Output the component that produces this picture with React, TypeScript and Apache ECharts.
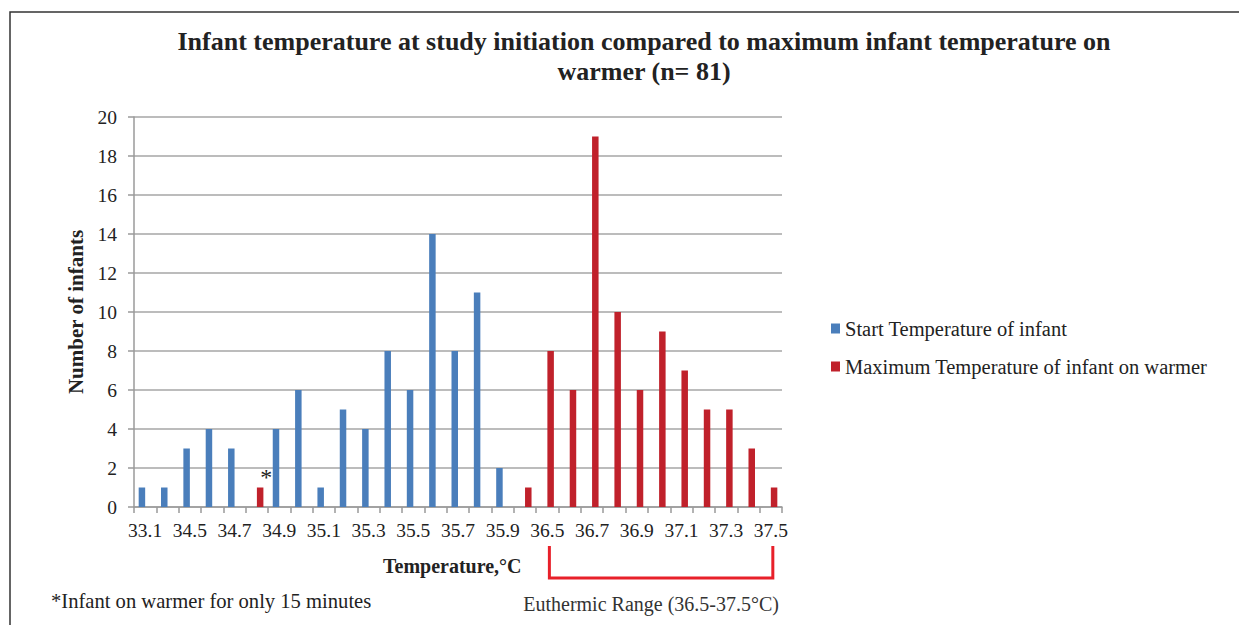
import React, { useEffect, useRef } from "react";
import * as echarts from "echarts";

const categories = [
  "33.1", "34.4", "34.5", "34.6", "34.7", "34.8", "34.9", "35.0", "35.1", "35.2",
  "35.3", "35.4", "35.5", "35.6", "35.7", "35.8", "35.9", "36.4", "36.5", "36.6",
  "36.7", "36.8", "36.9", "37.0", "37.1", "37.2", "37.3", "37.4", "37.5",
];
const startTemp = [1, 1, 3, 4, 3, 0, 4, 6, 1, 5, 4, 8, 6, 14, 8, 11, 2, 0, 0, 0, 0, 0, 0, 0, 0, 0, 0, 0, 0];
const maxTemp = [0, 0, 0, 0, 0, 1, 0, 0, 0, 0, 0, 0, 0, 0, 0, 0, 0, 1, 8, 6, 19, 10, 6, 9, 7, 5, 5, 3, 1];
const starredCategory = "34.8";
const rangeStart = "36.5";
const rangeEnd = "37.5";

const SERIF = "'Liberation Serif', 'Times New Roman', serif";
const BLUE = "#4A7EBB";
const RED = "#C0212B";

export default function App() {
  const ref = useRef<HTMLDivElement>(null);
  useEffect(() => {
    document.body.style.margin = "0";
    const chart = echarts.init(ref.current!, null, { renderer: "svg" });
    const redData = maxTemp.map((v, i) =>
      categories[i] === starredCategory
        ? {
            value: v,
            label: {
              show: true,
              formatter: "*",
              position: "top",
              offset: [6, 6],
              fontFamily: SERIF,
              fontSize: 24,
              color: "#222",
            },
          }
        : v
    );
    chart.setOption({
      animation: false,
      backgroundColor: "#fff",
      grid: { left: 134, right: 457, top: 117, bottom: 118 },
      legend: {
        orient: "vertical",
        left: 826,
        top: 313,
        itemWidth: 9,
        itemHeight: 10,
        itemGap: 17,
        icon: "rect",
        textStyle: { fontFamily: SERIF, fontSize: 20.5, color: "#222" },
        data: ["Start Temperature of infant", "Maximum Temperature of infant on warmer"],
      },
      xAxis: {
        type: "category",
        data: categories,
        boundaryGap: true,
        axisLine: { lineStyle: { color: "#9a9a9a", width: 1.5 } },
        axisTick: { show: true, interval: 0, length: 6, lineStyle: { color: "#9a9a9a", width: 1.5 } },
        axisLabel: {
          interval: 1,
          margin: 13,
          fontFamily: SERIF,
          fontSize: 19.5,
          color: "#222",
        },
      },
      yAxis: {
        type: "value",
        min: 0,
        max: 20,
        interval: 2,
        axisLine: { show: true, lineStyle: { color: "#9a9a9a", width: 1.5 } },
        axisTick: { show: true, length: 6, lineStyle: { color: "#9a9a9a", width: 1.5 } },
        splitLine: { lineStyle: { color: "#a6a6a6", width: 1.5 } },
        axisLabel: { margin: 17, fontFamily: SERIF, fontSize: 19.5, color: "#222" },
        name: "Number of infants",
        nameLocation: "middle",
        nameGap: 42,
        nameRotate: 90,
        nameTextStyle: { fontFamily: SERIF, fontSize: 21, fontWeight: "bold", color: "#222" },
      },
      series: [
        {
          name: "Start Temperature of infant",
          type: "bar",
          data: startTemp,
          barWidth: 6.5,
          barGap: "0%",
          itemStyle: { color: BLUE },
        },
        {
          name: "Maximum Temperature of infant on warmer",
          type: "bar",
          data: redData,
          barWidth: 6.5,
          barGap: "0%",
          itemStyle: { color: RED },
        },
      ],
    });

    const xs = chart.convertToPixel({ xAxisIndex: 0 }, rangeStart) as number;
    const xe = chart.convertToPixel({ xAxisIndex: 0 }, rangeEnd) as number;
    const bx1 = xs + 2;
    const bx2 = xe + 2;

    chart.setOption({
      graphic: [
        {
          type: "polyline",
          shape: { points: [[10, 625], [10, 12], [1239, 12]] },
          style: { stroke: "#333", lineWidth: 1.5, fill: null },
          silent: true,
        },
        {
          type: "text",
          x: 644,
          y: 56,
          style: {
            text: "Infant temperature at study initiation compared to maximum infant temperature on\nwarmer (n= 81)",
            textAlign: "center",
            textVerticalAlign: "middle",
            font: `bold 26px ${SERIF}`,
            lineHeight: 30,
            fill: "#222",
          },
        },
        {
          type: "text",
          x: 383,
          y: 566,
          style: {
            text: "Temperature,°C",
            textAlign: "left",
            textVerticalAlign: "middle",
            font: `bold 20px ${SERIF}`,
            fill: "#222",
          },
        },
        {
          type: "polyline",
          shape: { points: [[bx1, 546], [bx1, 578], [bx2, 578], [bx2, 546]] },
          style: { stroke: "#E8202A", lineWidth: 3, fill: null },
        },
        {
          type: "text",
          x: (bx1 + bx2) / 2 - 10,
          y: 604,
          style: {
            text: "Euthermic Range (36.5-37.5°C)",
            textAlign: "center",
            textVerticalAlign: "middle",
            font: `20px ${SERIF}`,
            fill: "#333",
          },
        },
        {
          type: "text",
          x: 51,
          y: 601,
          style: {
            text: "*Infant on warmer for only 15 minutes",
            textAlign: "left",
            textVerticalAlign: "middle",
            font: `20.6px ${SERIF}`,
            fill: "#222",
          },
        },
      ],
    });
    return () => chart.dispose();
  }, []);
  return <div ref={ref} style={{ width: 1239, height: 625 }} />;
}
